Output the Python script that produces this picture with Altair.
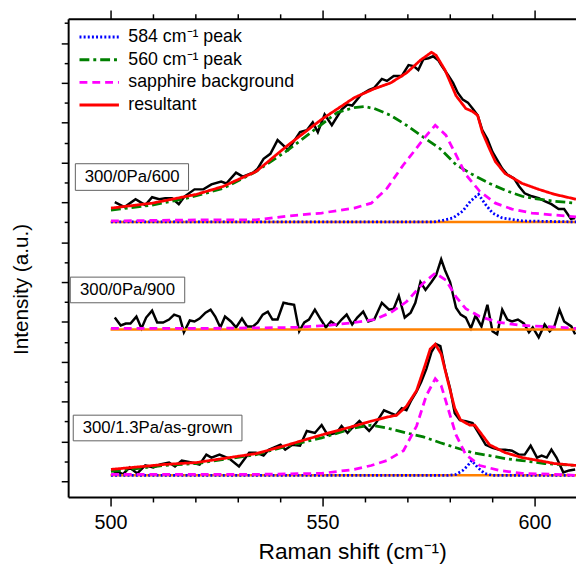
import altair as alt
import pandas as pd

# ---------------- data (x: Raman shift cm-1, y: a.u.) ----------------
# Top spectrum: 300/0Pa/600
TOP_DATA_X = [501.0, 503.3, 505.9, 508.2, 509.8, 511.5, 512.9, 514.5, 516.1, 517.5, 519.8, 521.9, 523.8, 526.1,
              527.3, 529.6, 531.2, 533.6, 534.7, 536.1, 537.7, 539.4, 541.9, 544.7, 546.3, 547.7, 548.9, 550.5,
              552.2, 554.5, 555.9, 557.0, 559.1, 561.0, 562.2, 564.0, 565.2, 566.8, 568.7, 570.3, 571.5, 572.6,
              573.8, 575.0, 576.1, 577.3, 578.0, 579.6, 580.8, 581.9, 583.1, 584.3, 585.4, 586.6, 587.7, 588.9,
              590.1, 591.2, 592.4, 593.6, 595.2, 596.4, 597.7, 599.4, 601.0, 602.4, 604.0, 605.7, 607.0, 608.6,
              609.6]
TOP_DATA_Y = [283, 278, 286, 280, 288, 286, 287, 287, 281, 289, 296, 296, 301, 304,
              302, 313, 309, 313, 317, 327, 332, 346, 336, 354, 356, 364, 354, 372,
              361, 377, 382, 381, 392, 397, 399, 408, 406, 411, 411, 422, 421, 417,
              428, 429, 431, 427, 422, 412, 404, 394, 387, 384, 378, 371, 356, 347,
              334, 326, 317, 311, 307, 299, 292, 289, 287, 284, 281, 276, 276, 266,
              267]
TOP_RES_X = [500.1, 509.8, 518.0, 520.3, 526.6, 529.6, 534.3, 541.9, 549.8, 557.5, 562.2, 566.1, 569.8, 573.1,
             575.7, 576.8, 578.9, 581.5, 583.8, 585.4, 586.6, 587.7, 589.4, 590.8, 593.1, 597.1, 601.0, 604.7,
             609.8]
TOP_RES_Y = [277, 282, 289, 291, 299, 305, 314, 341, 367, 389, 398, 404, 414, 427,
             435, 432, 417, 391, 378, 375, 371, 354, 337, 324, 312, 302, 296, 291,
             286]
TOP_560_X = [500.1, 509.8, 518.0, 526.6, 534.3, 541.9, 549.8, 553.5, 557.5, 559.8, 562.2, 566.1, 569.8, 573.8,
             577.8, 581.5, 585.4, 589.4, 593.1, 597.1, 601.0, 604.7, 609.8]
TOP_560_Y = [275, 280, 287, 297, 314, 336, 362, 374, 379, 380, 378, 371, 361, 349,
             337, 321, 311, 302, 295, 289, 286, 284, 282]
TOP_SAP_X = [500.1, 520.3, 534.3, 541.9, 549.8, 557.5, 561.5, 565.2, 569.1, 571.5, 573.8, 576.6, 579.1, 581.5,
             583.8, 587.1, 590.8, 594.7, 599.4, 604.7, 609.8]
TOP_SAP_Y = [264, 265, 265, 269, 272, 277, 282, 297, 321, 334, 347, 361, 351, 331,
             311, 294, 282, 276, 272, 270, 268]
TOP_584_X = [500.1, 576.1, 577.8, 580.8, 583.1, 584.9, 586.8, 588.4, 590.1, 592.4, 597.1, 609.8]
TOP_584_Y = [263, 263, 264, 267, 274, 284, 291, 281, 272, 267, 264, 263]

# Middle spectrum: 300/0Pa/900
MID_DATA_X = [501.0, 502.4, 503.6, 504.7, 506.1, 507.3, 508.4, 509.8, 511.0, 512.4, 513.8, 515.0, 516.3, 517.3,
              518.7, 519.8, 521.0, 522.4, 523.6, 524.7, 525.9, 527.0, 528.4, 529.6, 531.0, 532.2, 533.6, 534.7,
              535.9, 537.1, 538.2, 539.4, 540.8, 541.9, 543.3, 544.5, 545.7, 546.8, 548.2, 549.6, 550.8, 552.0,
              553.3, 554.5, 555.7, 557.0, 558.2, 559.6, 560.8, 562.2, 564.0, 565.7, 566.8, 568.0, 569.4, 570.8,
              571.9, 573.1, 574.3, 575.7, 576.8, 578.0, 578.9, 580.1, 581.5, 582.6, 583.8, 585.0, 586.1, 587.5,
              588.9, 590.1, 591.2, 592.4, 593.6, 594.7, 596.1, 597.5, 598.7, 599.6, 601.0, 602.4, 603.6, 604.7,
              605.9, 607.0, 608.7, 609.6]
MID_DATA_Y = [166, 158, 160, 160, 167, 155, 166, 173, 161, 161, 164, 169, 167, 151,
              163, 162, 165, 171, 174, 167, 156, 167, 162, 156, 165, 157, 157, 161,
              169, 172, 164, 164, 181, 180, 179, 152, 161, 164, 174, 164, 156, 162,
              158, 164, 169, 159, 166, 172, 162, 164, 181, 174, 175, 188, 166, 171,
              181, 202, 194, 202, 209, 225, 214, 202, 176, 169, 166, 155, 168, 157,
              179, 152, 149, 174, 164, 162, 164, 160, 151, 156, 146, 159, 152, 157,
              174, 162, 157, 149]
MID_SAP_X = [500.1, 522.7, 543.6, 551.3, 557.5, 562.2, 566.1, 569.8, 573.8, 576.6, 579.1, 581.5, 583.8, 587.1,
             591.7, 597.1, 602.4, 609.8]
MID_SAP_Y = [155, 155, 156, 158, 161, 164, 171, 182, 201, 211, 204, 187, 175, 167,
             161, 158, 157, 155]

# Bottom spectrum: 300/1.3Pa/as-grown
BOT_DATA_X = [500.6, 501.7, 502.9, 504.5, 506.3, 508.2, 510.1, 511.7, 513.8, 515.2, 516.8, 519.1, 521.0, 522.6,
              523.8, 525.7, 528.0, 530.3, 532.7, 534.3, 536.1, 537.3, 540.1, 541.2, 542.9, 544.7, 546.3, 548.2,
              549.8, 551.2, 553.3, 554.5, 555.9, 557.0, 558.7, 561.0, 562.6, 564.5, 566.1, 567.3, 568.7, 569.8,
              570.8, 572.2, 573.3, 574.5, 575.7, 576.8, 577.8, 578.9, 580.1, 581.2, 582.4, 583.8, 585.4, 587.1,
              588.5, 590.1, 591.7, 593.1, 594.7, 596.3, 597.7, 599.1, 600.6, 601.7, 602.9, 604.0, 605.2, 606.8,
              608.2, 609.6]
BOT_DATA_Y = [7, 10, 7, 14, 8, 16, 14, 17, 19, 15, 21, 19, 17, 27,
              24, 27, 23, 15, 29, 29, 26, 32, 37, 32, 37, 36, 51, 49,
              57, 47, 49, 56, 49, 54, 61, 51, 59, 72, 69, 67, 74, 72,
              81, 91, 101, 114, 131, 139, 137, 114, 94, 69, 62, 61, 59, 47,
              37, 34, 32, 32, 31, 27, 27, 36, 24, 26, 24, 32, 24, 9,
              11, 12]
BOT_RES_X = [500.1, 512.6, 520.3, 528.0, 534.3, 541.9, 549.8, 557.5, 561.5, 565.2, 567.5, 569.8, 572.2, 574.3,
             575.4, 576.6, 578.0, 579.6, 581.2, 582.6, 584.7, 585.9, 587.3, 589.4, 593.1, 597.1, 601.0, 604.7,
             609.8]
BOT_RES_Y = [12, 17, 19, 24, 28, 37, 47, 56, 61, 65, 67, 76, 92, 119,
             134, 139, 129, 101, 74, 62, 57, 57, 49, 37, 29, 24, 21, 18,
             16]
BOT_560_X = [500.1, 512.6, 520.3, 528.0, 534.3, 541.9, 549.8, 557.5, 561.5, 565.2, 569.8, 573.8, 577.8, 581.5,
             585.4, 589.4, 593.1, 597.1, 602.4, 609.8]
BOT_560_Y = [10, 16, 18, 23, 27, 36, 44, 54, 57, 54, 49, 45, 39, 34,
             29, 26, 23, 21, 18, 16]
BOT_SAP_X = [500.1, 534.3, 549.8, 557.5, 561.5, 565.2, 569.1, 572.2, 574.5, 576.6, 578.0, 579.6, 581.5, 583.8,
             587.1, 591.7, 597.1, 604.7, 609.8]
BOT_SAP_Y = [7, 7, 8, 12, 16, 21, 31, 56, 87, 104, 97, 74, 47, 27,
             16, 11, 8, 7, 6]
BOT_584_X = [500.1, 579.6, 581.5, 583.1, 584.3, 585.2, 586.6, 588.2, 590.1, 609.8]
BOT_584_Y = [6, 6, 7, 11, 16, 21, 14, 8, 6, 6]

# Baselines of the three spectra
SPECTRA = ["300/0Pa/600", "300/0Pa/900", "300/1.3Pa/as-grown"]
BASELINE_Y = [263, 154, 6]
BASELINE_X = [500.0, 612.0]

COMPONENTS = ["584 cm\u207b\u00b9 peak", "560 cm\u207b\u00b9 peak", "sapphire background", "resultant"]
COMP_COLORS = ["#0000FF", "#008000", "#FF00FF", "#FF0000"]
COMP_DASH = [[2, 2.2], [10, 4, 3, 4], [8, 5], [1, 0]]

# Annotation boxes (data coordinates)
ANNOT_TEXT = SPECTRA
ANNOT_X = [505.1, 504.0, 511.1]
ANNOT_Y = [308.5, 194, 54]
BOX_X1 = [491.7, 490.5, 491.2]
BOX_X2 = [518.4, 517.5, 531.0]
BOX_Y1 = [295, 181, 41]
BOX_Y2 = [322, 207, 67]

X_TICKS = [500, 510, 520, 530, 540, 550, 560, 570, 580, 590, 600]
Y_TICKS = [0, 20.2, 40.4, 60.6, 80.8, 101, 121.2, 141.4, 161.6, 181.8, 202, 222.2, 242.4, 262.6, 282.8,
           303, 323.2, 343.4, 363.6, 383.8, 404, 424.2, 444.4, 464.6]

# ---------------- tables ----------------
def rows(xs, ys, spectrum, comp=None):
    return [{"x": a, "y": b, "spectrum": spectrum, "component": comp} for a, b in zip(xs, ys)]

data_rows = (rows(TOP_DATA_X, TOP_DATA_Y, SPECTRA[0]) + rows(MID_DATA_X, MID_DATA_Y, SPECTRA[1])
             + rows(BOT_DATA_X, BOT_DATA_Y, SPECTRA[2]))
df_data = pd.DataFrame(data_rows)

comp_rows = []
comp_rows += rows(TOP_584_X, TOP_584_Y, SPECTRA[0], COMPONENTS[0])
comp_rows += rows(BOT_584_X, BOT_584_Y, SPECTRA[2], COMPONENTS[0])
comp_rows += rows(TOP_560_X, TOP_560_Y, SPECTRA[0], COMPONENTS[1])
comp_rows += rows(BOT_560_X, BOT_560_Y, SPECTRA[2], COMPONENTS[1])
comp_rows += rows(TOP_SAP_X, TOP_SAP_Y, SPECTRA[0], COMPONENTS[2])
comp_rows += rows(MID_SAP_X, MID_SAP_Y, SPECTRA[1], COMPONENTS[2])
comp_rows += rows(BOT_SAP_X, BOT_SAP_Y, SPECTRA[2], COMPONENTS[2])
comp_rows += rows(TOP_RES_X, TOP_RES_Y, SPECTRA[0], COMPONENTS[3])
comp_rows += rows(BOT_RES_X, BOT_RES_Y, SPECTRA[2], COMPONENTS[3])
df_comp = pd.DataFrame(comp_rows)
df_comp["order"] = range(len(df_comp))

base_rows = []
for s, b in zip(SPECTRA, BASELINE_Y):
    base_rows += rows(BASELINE_X, [b, b], s)
df_base = pd.DataFrame(base_rows)

df_annot = pd.DataFrame({"label": ANNOT_TEXT, "x": ANNOT_X, "y": ANNOT_Y,
                         "x1": BOX_X1, "x2": BOX_X2, "y1": BOX_Y1, "y2": BOX_Y2})

# ---------------- chart ----------------
FONT = "Liberation Sans"
xscale = alt.Scale(domain=[490, 609.8], nice=False, zero=False)
yscale = alt.Scale(domain=[-16, 469], nice=False, zero=False)
AX = dict(grid=False, domainColor="black", domainWidth=2, tickColor="black", tickWidth=1.5)
# long ticks at the labelled values, short (dash-trimmed) ticks in between
X_TICKDASH = {"condition": {"test": "datum.value % 50 === 0", "value": [20, 0]}, "value": [5, 30]}
Y_TICKDASH = {"condition": {"test": "round(datum.value / 20.2) % 2 === 0", "value": [20, 0]}, "value": [4, 30]}

x_bottom = alt.Axis(orient="bottom", values=X_TICKS, tickSize=9, tickDash=X_TICKDASH,
                    labelExpr="datum.value % 50 === 0 ? datum.label : ''",
                    labelFont=FONT, labelFontSize=20, labelColor="black", labelPadding=7,
                    title="Raman shift (cm\u207b\u00b9)", titleFont=FONT, titleFontSize=23,
                    titleFontWeight="normal", titleColor="black", titleX=288, titleY=55,
                    titleBaseline="middle", **AX)
x_top = alt.Axis(orient="top", values=X_TICKS, tickSize=9, tickDash=X_TICKDASH, labels=False,
                 title=None, **AX)
y_left = alt.Axis(orient="left", values=Y_TICKS, tickSize=7, tickDash=Y_TICKDASH, labels=False,
                  title="Intensity (a.u.)", titleFont=FONT, titleFontSize=21, titleFontWeight="normal",
                  titleColor="black", titleX=-47, titleY=274, titleAngle=270, titleBaseline="middle",
                  titleAlign="center", **AX)

black = alt.Chart(df_data).mark_line(color="black", strokeWidth=2.5, clip=True).encode(
    x=alt.X("x:Q", scale=xscale, axis=x_bottom),
    y=alt.Y("y:Q", scale=yscale, axis=y_left),
    detail="spectrum:N",
)

baseline = alt.Chart(df_base).mark_line(color="#FF8000", strokeWidth=2.5, clip=True).encode(
    x=alt.X("x:Q", scale=xscale, axis=x_top),
    y=alt.Y("y:Q", scale=yscale, axis=None),
    detail="spectrum:N",
)

legend = alt.Legend(orient="none", legendX=10, legendY=7, title=None, symbolType="stroke",
                    symbolSize=1600, symbolStrokeWidth=3, labelFont=FONT, labelFontSize=18,
                    labelColor="black", labelOffset=8, rowPadding=0, padding=0, labelLimit=0,
                    clipHeight=23)

comps = alt.Chart(df_comp).mark_line(strokeWidth=2.8, clip=True).encode(
    x=alt.X("x:Q", scale=xscale, axis=None),
    y=alt.Y("y:Q", scale=yscale, axis=None),
    color=alt.Color("component:N", scale=alt.Scale(domain=COMPONENTS, range=COMP_COLORS), legend=legend),
    strokeDash=alt.StrokeDash("component:N", scale=alt.Scale(domain=COMPONENTS, range=COMP_DASH), legend=legend),
    detail="spectrum:N",
    order="order:Q",
)

boxes = alt.Chart(df_annot).mark_rect(fill="white", stroke="#606060", strokeWidth=1).encode(
    x=alt.X("x1:Q", scale=xscale, axis=None), x2="x2:Q",
    y=alt.Y("y1:Q", scale=yscale, axis=None), y2="y2:Q",
)
labels = alt.Chart(df_annot).mark_text(font=FONT, fontSize=17, color="black").encode(
    x=alt.X("x:Q", scale=xscale, axis=None), y=alt.Y("y:Q", scale=yscale, axis=None), text="label:N",
)

chart = alt.layer(black, baseline, comps, boxes, labels).resolve_axis(
    x="independent", y="independent").properties(
    width=515, height=485,
    autosize=alt.AutoSizeParams(type="none"),
    padding={"left": 61, "top": 7, "right": 0, "bottom": 65},
).configure_view(stroke=None)

chart.save("out.html", embed_options={"renderer": "svg", "actions": False})
